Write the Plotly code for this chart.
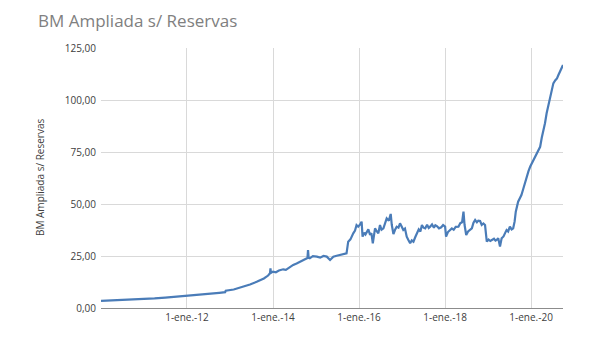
import plotly.graph_objects as go

dates = [
    "2010-01-01", "2010-04-01", "2010-07-01", "2010-10-01", "2011-01-01", "2011-04-01",
    "2011-07-01", "2011-10-01", "2012-01-01", "2012-04-01", "2012-07-01", "2012-10-01",
    "2012-11-20", "2012-11-25", "2013-02-01", "2013-04-01", "2013-06-19", "2013-08-15",
    "2013-10-15", "2013-11-20", "2013-12-06", "2013-12-10", "2013-12-14", "2014-01-01",
    "2014-01-25", "2014-02-20", "2014-03-28", "2014-04-20", "2014-05-20", "2014-06-21",
    "2014-07-20", "2014-08-20", "2014-09-28", "2014-10-20", "2014-10-25", "2014-10-30",
    "2014-11-09", "2014-12-05", "2015-01-08", "2015-02-05", "2015-03-05", "2015-04-02",
    "2015-04-30", "2015-05-28", "2015-06-25", "2015-07-23", "2015-08-20", "2015-09-17",
    "2015-10-01", "2015-10-20", "2015-11-13", "2015-11-28", "2015-12-11", "2015-12-25",
    "2016-01-10", "2016-01-23", "2016-01-31", "2016-02-15", "2016-02-25", "2016-03-07",
    "2016-03-20", "2016-04-04", "2016-04-15", "2016-04-27", "2016-05-16", "2016-05-30",
    "2016-06-13", "2016-06-27", "2016-07-10", "2016-07-26", "2016-08-10", "2016-08-23",
    "2016-09-10", "2016-09-26", "2016-10-05", "2016-10-19", "2016-11-01", "2016-11-16",
    "2016-12-01", "2016-12-14", "2016-12-28", "2017-01-11", "2017-01-25", "2017-02-09",
    "2017-02-22", "2017-03-10", "2017-03-24", "2017-04-07", "2017-04-22", "2017-05-06",
    "2017-05-22", "2017-06-05", "2017-06-18", "2017-07-02", "2017-07-16", "2017-08-01",
    "2017-08-15", "2017-08-27", "2017-09-12", "2017-09-28", "2017-10-10", "2017-10-23",
    "2017-11-10", "2017-11-29", "2017-12-15", "2018-01-01", "2018-01-09", "2018-01-25",
    "2018-02-10", "2018-02-27", "2018-03-15", "2018-04-01", "2018-04-24", "2018-05-10",
    "2018-05-25", "2018-06-06", "2018-06-15", "2018-06-29", "2018-07-15", "2018-08-01",
    "2018-08-16", "2018-08-30", "2018-09-13", "2018-09-28", "2018-10-10", "2018-10-25",
    "2018-11-08", "2018-11-22", "2018-12-06", "2018-12-21", "2019-01-05", "2019-01-20",
    "2019-02-01", "2019-02-20", "2019-03-05", "2019-03-15", "2019-03-28", "2019-04-12",
    "2019-04-26", "2019-05-12", "2019-05-25", "2019-06-07", "2019-06-20", "2019-07-05",
    "2019-07-20", "2019-08-02", "2019-08-14", "2019-08-24", "2019-09-13", "2019-09-28",
    "2019-10-11", "2019-10-25", "2019-11-08", "2019-11-25", "2019-12-10", "2019-12-24",
    "2020-01-15", "2020-02-03", "2020-02-18", "2020-03-01", "2020-03-18", "2020-04-01",
    "2020-04-16", "2020-04-28", "2020-05-12", "2020-05-27", "2020-06-10", "2020-06-25",
    "2020-07-08", "2020-07-25", "2020-08-08", "2020-08-20", "2020-09-02", "2020-09-15",
    "2020-09-28",
]

values = [
    3.4, 3.6, 3.8, 4.1, 4.3, 4.6,
    5.0, 5.4, 5.9, 6.3, 6.8, 7.3,
    7.6, 8.3, 8.9, 9.8, 11.3, 12.6,
    14.2, 15.6, 16.7, 19.1, 16.9, 17.5,
    17.2, 18.0, 18.6, 18.3, 19.6, 20.7,
    21.4, 22.3, 23.1, 24.0, 27.9, 24.2,
    23.9, 24.9, 24.7, 24.2, 25.0, 24.7,
    23.1, 24.7, 25.1, 25.5, 25.9, 26.3,
    31.9, 33.0, 35.9, 37.2, 39.9, 39.1,
    40.2, 41.5, 34.3, 36.2, 35.4, 36.7,
    37.8, 35.1, 36.0, 31.1, 38.3, 36.9,
    35.9, 39.9, 37.6, 38.3, 40.5, 43.1,
    42.0, 45.2, 40.0, 35.5, 37.5, 39.1,
    38.6, 40.7, 39.2, 37.5, 38.2, 34.3,
    32.8, 31.1, 32.5, 31.9, 34.0, 35.9,
    37.8, 36.8, 39.9, 38.6, 38.3, 40.0,
    38.5, 39.1, 40.2, 38.6, 39.8, 39.4,
    38.3, 38.8, 39.9, 39.1, 34.3, 36.5,
    37.2, 38.3, 37.6, 39.0, 39.1, 40.8,
    41.2, 46.3, 40.0, 35.1, 36.8, 37.4,
    38.3, 41.0, 42.3, 41.2, 42.0, 41.8,
    39.9, 40.6, 39.9, 31.9, 32.9, 32.2,
    32.7, 33.3, 32.4, 32.7, 33.6, 29.5,
    33.5, 34.4, 36.0, 37.5, 36.8, 39.1,
    37.8, 38.3, 41.5, 46.3, 51.1, 52.5,
    54.3, 57.0, 60.0, 62.5, 65.8, 67.9,
    70.5, 72.0, 74.5, 76.0, 77.5, 82.0,
    85.6, 88.8, 93.6, 97.2, 101.6, 105.0,
    108.0, 109.5, 110.4, 112.0, 113.6, 115.0,
    116.8,
]

x_tick_vals = ["2012-01-01", "2014-01-01", "2016-01-01", "2018-01-01", "2020-01-01"]
x_tick_text = ["1-ene.-12", "1-ene.-14", "1-ene.-16", "1-ene.-18", "1-ene.-20"]
y_tick_vals = [0, 25, 50, 75, 100, 125]

title_text = "BM Ampliada s/ Reservas"
y_title_text = "BM Ampliada s/ Reservas"

fig = go.Figure()
fig.add_trace(go.Scatter(
    x=dates, y=values, mode="lines",
    line=dict(color="#4a7cb8", width=2.2),
    showlegend=False,
))

# page body has an 8px margin; figure coords = page coords - 8
OFF = 8
W, H = 601 - OFF, 360 - OFF
L, T = 101 - OFF, 48 - OFF
R = W - (563 - OFF)
B = H - (308 - OFF)
pw = W - L - R
ph = H - T - B

fig.update_layout(
    width=W, height=H,
    margin=dict(l=L, r=R, t=T, b=B, pad=0),
    paper_bgcolor="white", plot_bgcolor="white",
    separators=",.",
    font=dict(family="Open Sans, Noto Sans, sans-serif", color="#404040", size=10),
    xaxis=dict(
        type="date",
        range=["2010-01-01", "2020-09-28"],
        tickvals=x_tick_vals, ticktext=x_tick_text,
        showgrid=True, gridcolor="#d9d9d9", gridwidth=1,
        showline=True, linecolor="#8c8c8c", linewidth=1,
        ticks="", tickfont=dict(size=10, color="#404040"),
        zeroline=False,
    ),
    yaxis=dict(
        range=[0, 125],
        tickvals=y_tick_vals, tickformat=".2f",
        showgrid=True, gridcolor="#d9d9d9", gridwidth=1,
        showline=False, zeroline=False,
        ticks="", tickfont=dict(size=10, color="#404040"),
        ticklabelstandoff=4,
    ),
    annotations=[
        dict(text=title_text, xref="paper", yref="paper",
             x=(36 - 101) / pw, y=1 + (48 - 21) / ph,
             xanchor="left", yanchor="middle", showarrow=False,
             font=dict(size=17, color="#808080", family="Open Sans, Noto Sans, sans-serif")),
        dict(text=y_title_text, xref="paper", yref="paper",
             x=(40 - 101) / pw, y=0.5, textangle=-90,
             xanchor="center", yanchor="middle", showarrow=False,
             font=dict(size=10, color="#404040")),
    ],
)

fig.write_html("out.html")
